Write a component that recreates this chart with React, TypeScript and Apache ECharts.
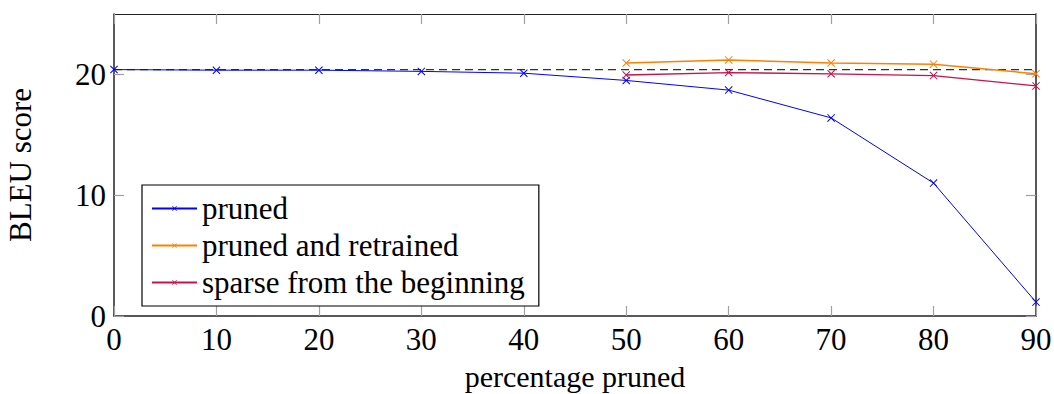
import React, { useEffect, useRef } from "react";
import * as echarts from "echarts";

const xValues = [0, 10, 20, 30, 40, 50, 60, 70, 80, 90];
const prunedValues = [20.4, 20.35, 20.35, 20.25, 20.1, 19.5, 18.7, 16.4, 11.0, 1.15];
const retrainedX = [50, 60, 70, 80, 90];
const retrainedValues = [20.95, 21.2, 20.95, 20.85, 20.05];
const sparseX = [50, 60, 70, 80, 90];
const sparseValues = [19.95, 20.15, 20.05, 19.9, 19.05];
const baselineX = [0, 90];
const baselineValue = 20.4;
const xTicks = [0, 10, 20, 30, 40, 50, 60, 70, 80, 90];
const yTicks = [0, 10, 20];

const FONT = "'Liberation Serif', 'DejaVu Serif', serif";
const CROSS = "path://M0,0.9L0.9,0L10,9.1L9.1,10Z M9.1,0L10,0.9L0.9,10L0,9.1Z";

export default function App() {
  const ref = useRef<HTMLDivElement>(null);
  useEffect(() => {
    const chart = echarts.init(ref.current!, null, { renderer: "svg" });
    const pair = (xs: number[], ys: number[]) => xs.map((x, i) => [x, ys[i]]);
    const axisTickStyle = { show: true, inside: true, length: 10, lineStyle: { color: "#a0a0a0", width: 1.2 } };
    const mkSeries = (name: string, data: number[][], color: string, width: number) => ({
      name,
      type: "line",
      data,
      symbol: CROSS,
      symbolSize: 8,
      itemStyle: { color },
      lineStyle: { color, width },
      z: 3,
    });
    chart.setOption({
      animation: false,
      grid: { left: 114, right: 18, top: 14, bottom: 78, containLabel: false, outerBoundsMode: "none" },
      xAxis: [
        {
          type: "value",
          min: 0,
          max: 90,
          interval: 10,
          position: "bottom",
          axisLine: { show: true, onZero: false, lineStyle: { color: "#222", width: 1.5 } },
          axisTick: { ...axisTickStyle, customValues: xTicks },
          axisLabel: { customValues: xTicks, fontFamily: FONT, fontSize: 31, color: "#000", margin: 8 },
          splitLine: { show: false },
          name: "percentage pruned",
          nameLocation: "middle",
          nameGap: 46,
          nameTextStyle: { fontFamily: FONT, fontSize: 30, color: "#000", lineHeight: 28 },
        },
        {
          type: "value",
          min: 0,
          max: 90,
          interval: 10,
          position: "top",
          axisLine: { show: true, onZero: false, lineStyle: { color: "#222", width: 1.2 } },
          axisTick: { ...axisTickStyle, customValues: xTicks },
          axisLabel: { show: false },
          splitLine: { show: false },
        },
      ],
      yAxis: [
        {
          type: "value",
          min: 0,
          max: 25,
          interval: 10,
          position: "left",
          axisLine: { show: true, onZero: false, lineStyle: { color: "#222", width: 1.5 } },
          axisTick: { ...axisTickStyle, customValues: yTicks },
          axisLabel: { customValues: yTicks, fontFamily: FONT, fontSize: 31, color: "#000", margin: 8 },
          splitLine: { show: false },
          name: "BLEU score",
          nameLocation: "middle",
          nameGap: 78,
          nameRotate: 90,
          nameTextStyle: { fontFamily: FONT, fontSize: 31, color: "#000" },
        },
        {
          type: "value",
          min: 0,
          max: 25,
          interval: 10,
          position: "right",
          axisLine: { show: true, onZero: false, lineStyle: { color: "#222", width: 1.5 } },
          axisTick: { ...axisTickStyle, customValues: yTicks },
          axisLabel: { show: false },
          splitLine: { show: false },
        },
      ],
      legend: {
        orient: "vertical",
        left: 142,
        top: 185,
        data: ["pruned", "pruned and retrained", "sparse from the beginning"],
        backgroundColor: "#fff",
        borderColor: "#000",
        borderWidth: 1.2,
        padding: [8, 14, 8, 9],
        itemGap: 6,
        itemWidth: 45,
        itemHeight: 6,
        itemTextGap: 5,
        textStyle: { fontFamily: FONT, fontSize: 31, color: "#000", lineHeight: 31 },
        z: 10,
      },
      series: [
        {
          name: "baseline",
          type: "line",
          data: pair(baselineX, [baselineValue, baselineValue]),
          symbol: "none",
          lineStyle: { color: "#333", width: 1.3, type: [8, 5] },
          z: 2,
          silent: true,
        },
        mkSeries("pruned", pair(xValues, prunedValues), "#0000ff", 1),
        mkSeries("pruned and retrained", pair(retrainedX, retrainedValues), "#ff8000", 1.5),
        mkSeries("sparse from the beginning", pair(sparseX, sparseValues), "#c8124a", 1.3),
      ],
    });
    return () => chart.dispose();
  }, []);
  return (
    <div
      ref={ref}
      style={{ position: "absolute", left: 0, top: 0, width: 1054, height: 394, background: "#fff" }}
    />
  );
}
